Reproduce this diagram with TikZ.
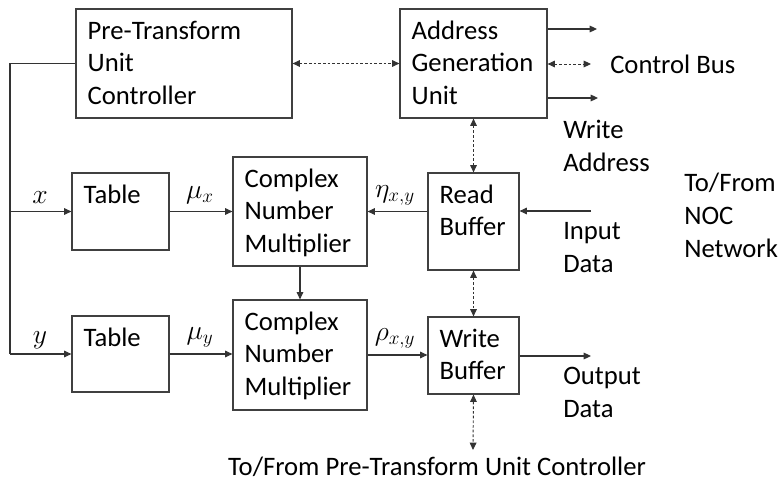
\documentclass[tikz,border=0pt]{standalone}
\usepackage{fontspec}
\setmainfont{Carlito}
\usetikzlibrary{arrows.meta,fit,positioning}

\tikzset{
  blk/.style={draw=black!75, line width=0.9pt, inner sep=0pt},
  txt/.style={font=\fontsize{20}{24.4}\selectfont, align=left, inner sep=0pt, anchor=base west},
  mth/.style={font=\fontsize{20}{24}\selectfont, inner sep=0pt},
  sig/.style={draw=black!80, line width=0.8pt, -{Triangle[length=5.5pt,width=5pt]}},
  bidir/.style={draw=black!80, line width=0.7pt, dash pattern=on 2pt off 1.5pt,
    {Triangle[length=5.5pt,width=5pt]}-{Triangle[length=5.5pt,width=5pt]}},
  wire/.style={draw=black!80, line width=0.8pt},
}

\begin{document}
\begin{tikzpicture}[x=0.75pt,y=-0.75pt]
   \useasboundingbox (0,0) rectangle (781,485);

   % boxes (text sits on the baseline of its last line)
   \node[blk, fit={(76,9) (292,118)}] (ptuc) {};
   \node[txt] (ptuct) at ([xshift=9pt,yshift=-72.05pt]ptuc.north west) {Pre-Transform\\Unit\\Controller};

   \node[blk, fit={(400,9) (547,118)}] (agu) {};
   \node[txt] (agut) at ([xshift=9pt,yshift=-72.05pt]agu.north west) {Address\\Generation\\Unit};

   \node[blk, fit={(72,173) (169,250)}] (tab1) {};
   \node[txt] (tab1t) at ([xshift=9pt,yshift=-23.25pt]tab1.north west) {Table};

   \node[blk, fit={(233,157) (367,266)}] (cnm1) {};
   \node[txt] (cnm1t) at ([xshift=9pt,yshift=-72.05pt]cnm1.north west) {Complex\\Number\\Multiplier};

   \node[blk, fit={(428,173) (519,270)}] (rb) {};
   \node[txt] (rbt) at ([xshift=9pt,yshift=-47.65pt]rb.north west) {Read\\Buffer};

   \node[blk, fit={(72,316) (169,392)}] (tab2) {};
   \node[txt] (tab2t) at ([xshift=9pt,yshift=-23.25pt]tab2.north west) {Table};

   \node[blk, fit={(233,300) (367,410)}] (cnm2) {};
   \node[txt] (cnm2t) at ([xshift=9pt,yshift=-72.05pt]cnm2.north west) {Complex\\Number\\Multiplier};

   \node[blk, fit={(428,317) (519,394)}] (wb) {};
   \node[txt] (wbt) at ([xshift=9pt,yshift=-47.65pt]wb.north west) {Write\\Buffer};

   % outside labels
   \node[txt, anchor=west] (ctrl) at (610,64) {Control Bus};
   \node[txt] (wadr) at (563,171.5) {Write\\Address};
   \node[txt] (indat) at (563,272.5) {Input\\Data};
   \node[txt] (outdat) at (563,417.5) {Output\\Data};
   \node[txt] (noc) at (684,257) {To/From\\NOC\\Network};
   \node[txt, anchor=center] (ptlbl) at (437,467) {To/From Pre-Transform Unit Controller};

   % signal names
   \node[mth] (lx) at (40,198) {$x$};
   \node[mth] (ly) at (40,340) {$y$};
   \node[mth] (lmux) at (200,195) {$\mu_x$};
   \node[mth] (lmuy) at (200,337) {$\mu_y$};
   \node[mth] (leta) at (395,195) {$\eta_{x,y}$};
   \node[mth] (lrho) at (395,338) {$\rho_{x,y}$};

   % free ends
   \coordinate (bus) at (10,0);
   \coordinate (cb1) at (597,29);
   \coordinate (cb2) at (591,64);
   \coordinate (cb3) at (598,98);
   \coordinate (inp) at (591,211);
   \coordinate (outp) at (591,356);
   \coordinate (pbot) at (473,450);

   % connectors
   \draw[wire] (ptuc.west) -| (bus |- tab2.west);
   \draw[sig] (bus |- tab1.west) -- (tab1.west);
   \draw[sig] (bus |- tab2.west) -- (tab2.west);
   \draw[bidir] (ptuc.east) -- (agu.west);
   \draw[sig] (agu.east |- cb1) -- (cb1);
   \draw[bidir] (agu.east |- cb2) -- (cb2);
   \draw[sig] (agu.east |- cb3) -- (cb3);
   \draw[bidir] (agu.south) -- (rb.north);
   \draw[sig] (inp) -- (rb.east |- inp);
   \draw[sig] (rb.west |- cnm1.east) -- (cnm1.east);
   \draw[sig] (tab1.east) -- (cnm1.west);
   \draw[sig] (cnm1.south) -- (cnm2.north);
   \draw[sig] (tab2.east) -- (tab2.east -| cnm2.west);
   \draw[sig] (cnm2.east) -- (cnm2.east -| wb.west);
   \draw[bidir] (rb.south) -- (wb.north);
   \draw[sig] (wb.east |- outp) -- (outp);
   \draw[bidir] (wb.south) -- (pbot);
\end{tikzpicture}
\end{document}
